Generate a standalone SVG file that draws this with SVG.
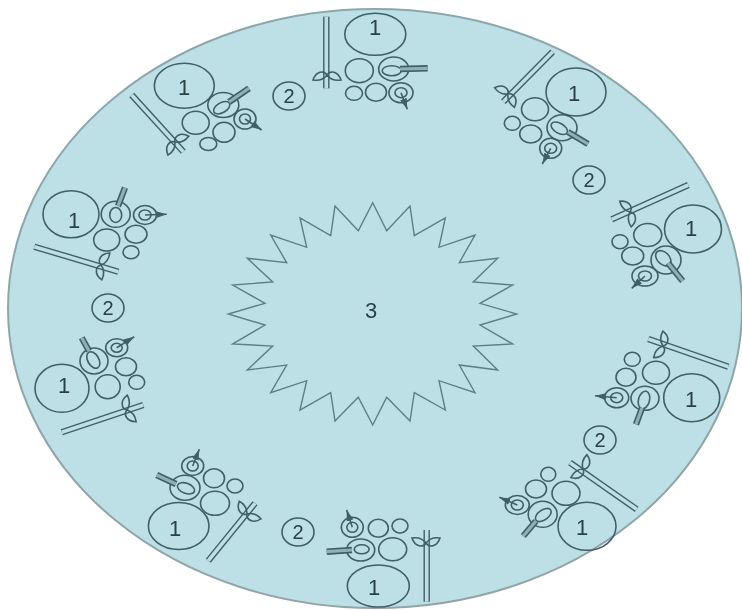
<svg xmlns="http://www.w3.org/2000/svg" width="742" height="610" viewBox="0 0 742 610">
<style>
.l{fill:none;stroke:#3f5f66;stroke-width:1.6}
.s{fill:none;stroke:#5b7f86;stroke-width:1.4}
.r1{fill:none;stroke:#3f5f66;stroke-width:6.4}
.r2{fill:none;stroke:#bce0e5;stroke-width:3.6}
.k2{fill:none;stroke:#8fb0b5;stroke-width:3.2}
.n{fill:none;stroke:#3f5f66;stroke-width:1.6;marker-end:url(#tip)}
.t{font-family:"Liberation Sans",Arial,sans-serif;font-size:22px;fill:#2b3f45;text-anchor:middle}
.u{font-size:20px}
</style>
<defs>
<filter id="b" x="-2%" y="-2%" width="104%" height="104%"><feGaussianBlur stdDeviation="0.5"/></filter>
<marker id="tip" markerUnits="userSpaceOnUse" viewBox="0 0 11 7" refX="11" refY="3.5" markerWidth="11" markerHeight="7" orient="auto"><path d="M0 0L11 3.5L0 7Z" fill="#3f5f66"/></marker>
<path id="leaf" d="M0 0C-3 -5 -11 -4 -14 5C-8 6 -3 4 0 0C3 -5 11 -4 14 5C8 6 3 4 0 0Z" fill="none" stroke="#3f5f66" stroke-width="1.6"/>
</defs>
<rect width="742" height="610" fill="#fff"/>
<g filter="url(#b)">
<ellipse id="disc" cx="375" cy="308.5" rx="367" ry="299.5" fill="#bce0e5" stroke="#8ea6aa" stroke-width="2"/>
<g id="star">
<polygon class="s" points="372.7,202.7 386.7,230.7 410,206 414.3,235.7 445.3,218 439,247.3 475,235 459.3,262.7 497.7,258.3 473.3,282 512.7,285 480,303.3 516.7,314 480,325 512.7,344 473.3,346 497.7,370 459.3,365 475,392.7 439,380.7 445.3,410 414.3,392.7 410,421 386.7,397.3 372.7,425 358.3,397.3 335,421 330.7,392.7 300,410 306.7,380.7 270.7,392.7 286.7,365 247.3,370 272.7,346 232.7,344 265,325 228.3,314 265,303.3 232.7,285 272.7,282 247.3,258.3 286.7,262.7 270.7,235 306.7,247.3 300,218 330.7,235.7 335,206 358.3,230.7"/>
<text class="t" x="371" y="318">3</text>
</g>

<g id="n1">
<ellipse class="l" cx="375.3" cy="34.3" rx="30.5" ry="21"/>
<ellipse class="l" cx="359.3" cy="70.7" rx="14" ry="12"/>
<ellipse class="l" cx="393.7" cy="69" rx="15" ry="12"/>
<ellipse class="l" cx="391.7" cy="70.7" rx="9.5" ry="5"/>
<path class="r1" d="M400 69L427.7 68.3"/><path class="k2" d="M400 69L427.7 68.3"/>
<ellipse class="l" cx="354" cy="93.3" rx="8.5" ry="7"/>
<ellipse class="l" cx="376" cy="92.3" rx="10.5" ry="9"/>
<ellipse class="l" cx="401" cy="92.7" rx="12" ry="10"/>
<ellipse class="l" cx="401" cy="92.7" rx="6" ry="5"/>
<path class="n" d="M401 92.7L407.3 109.3"/>
<path class="r1" d="M326.3 16.7V88.3"/><path class="r2" d="M326.3 16.7V88.3"/>
<use href="#leaf" transform="translate(327,75)"/>
<text class="t" x="375" y="35">1</text>
</g>

<g id="n2">
<ellipse class="l" cx="576" cy="92" rx="30" ry="24"/>
<ellipse class="l" cx="535" cy="109.3" rx="13.5" ry="11.5"/>
<ellipse class="l" cx="562" cy="127.7" rx="15" ry="13"/>
<ellipse class="l" cx="559.3" cy="128.3" rx="9" ry="5" transform="rotate(30 559.3 128.3)"/>
<path class="r1" d="M568 132L588 144"/><path class="k2" d="M568 132L588 144"/>
<ellipse class="l" cx="512.3" cy="123.3" rx="8" ry="7"/>
<ellipse class="l" cx="530.7" cy="134" rx="11" ry="9"/>
<ellipse class="l" cx="550.7" cy="148.3" rx="11" ry="10"/>
<ellipse class="l" cx="550.7" cy="148.3" rx="6" ry="5"/>
<path class="n" d="M550.7 148.3L542.3 164"/>
<path class="r1" d="M552.7 51.7L503.3 101.7"/><path class="r2" d="M552.7 51.7L503.3 101.7"/>
<use href="#leaf" transform="translate(508,94) rotate(45)"/>
<text class="t" x="574" y="101">1</text>
</g>

<g id="n3">
<ellipse class="l" cx="693" cy="229" rx="28.5" ry="24"/>
<ellipse class="l" cx="647.7" cy="235" rx="14" ry="11.5"/>
<ellipse class="l" cx="666" cy="260" rx="15" ry="14"/>
<ellipse class="l" cx="663.3" cy="258.3" rx="9" ry="6" transform="rotate(45 663.3 258.3)"/>
<path class="r1" d="M668 263L682.7 281"/><path class="k2" d="M668 263L682.7 281"/>
<ellipse class="l" cx="620" cy="241.7" rx="8" ry="7"/>
<ellipse class="l" cx="632.7" cy="256" rx="11" ry="9"/>
<ellipse class="l" cx="645" cy="276" rx="13" ry="10"/>
<ellipse class="l" cx="645" cy="276" rx="6.5" ry="5"/>
<path class="n" d="M645 276L631.7 288.3"/>
<path class="r1" d="M688.3 185L611.7 219.3"/><path class="r2" d="M688.3 185L611.7 219.3"/>
<use href="#leaf" transform="translate(630,212) rotate(66)"/>
<text class="t" x="691" y="236">1</text>
</g>

<g id="n4">
<ellipse class="l" cx="691.7" cy="397.7" rx="28" ry="24"/>
<ellipse class="l" cx="656" cy="372.7" rx="13.5" ry="11.5"/>
<ellipse class="l" cx="645" cy="398.3" rx="14" ry="12"/>
<ellipse class="l" cx="644" cy="400" rx="5.5" ry="9" transform="rotate(15 644 400)"/>
<path class="r1" d="M642 408L636 424.3"/><path class="k2" d="M642 408L636 424.3"/>
<ellipse class="l" cx="632.3" cy="359.3" rx="8" ry="7"/>
<ellipse class="l" cx="626" cy="377.3" rx="10" ry="9"/>
<ellipse class="l" cx="616.7" cy="397.7" rx="12" ry="10"/>
<ellipse class="l" cx="616.7" cy="397.7" rx="6" ry="5"/>
<path class="n" d="M616.7 397.7L595 395.7"/>
<path class="r1" d="M648.3 339L728.3 366.7"/><path class="r2" d="M648.3 339L728.3 366.7"/>
<use href="#leaf" transform="translate(663,346) rotate(109)"/>
<text class="t" x="691" y="407">1</text>
</g>

<g id="n5">
<ellipse class="l" cx="587" cy="526.3" rx="29" ry="24"/>
<ellipse class="l" cx="566" cy="493.3" rx="14" ry="12"/>
<ellipse class="l" cx="542.7" cy="514.3" rx="14.5" ry="13"/>
<ellipse class="l" cx="543.3" cy="515" rx="9" ry="5" transform="rotate(-35 543.3 515)"/>
<path class="r1" d="M536 521L523.3 536"/><path class="k2" d="M536 521L523.3 536"/>
<ellipse class="l" cx="548.3" cy="474.3" rx="7.5" ry="7"/>
<ellipse class="l" cx="536" cy="489" rx="10.5" ry="9"/>
<ellipse class="l" cx="517.3" cy="505" rx="12" ry="9.5"/>
<ellipse class="l" cx="517.3" cy="505" rx="6" ry="5"/>
<path class="n" d="M517.3 505L499.3 497.3"/>
<path class="r1" d="M570 462.7L636.7 509.3"/><path class="r2" d="M570 462.7L636.7 509.3"/>
<use href="#leaf" transform="translate(583,469) rotate(125)"/>
<text class="t" x="582" y="535">1</text>
</g>

<g id="n6">
<ellipse class="l" cx="378.3" cy="586" rx="31" ry="21"/>
<ellipse class="l" cx="392.7" cy="549.3" rx="14" ry="11.5"/>
<ellipse class="l" cx="360.7" cy="550" rx="14" ry="11"/>
<ellipse class="l" cx="361.7" cy="549.3" rx="7.5" ry="4.5"/>
<path class="r1" d="M352 550L326.7 551.7"/><path class="k2" d="M352 550L326.7 551.7"/>
<ellipse class="l" cx="400" cy="526" rx="8" ry="7"/>
<ellipse class="l" cx="378.3" cy="528.3" rx="10" ry="9"/>
<ellipse class="l" cx="352.3" cy="527.3" rx="11" ry="10"/>
<ellipse class="l" cx="352.3" cy="527.3" rx="5.5" ry="5"/>
<path class="n" d="M352.3 527.3L346.7 510"/>
<path class="r1" d="M426.7 530V601.7"/><path class="r2" d="M426.7 530V601.7"/>
<use href="#leaf" transform="translate(426,543) rotate(180)"/>
<text class="t" x="374" y="595">1</text>
</g>

<g id="n7">
<ellipse class="l" cx="178.7" cy="526" rx="30.3" ry="23.5"/>
<ellipse class="l" cx="215" cy="503.3" rx="14.5" ry="12"/>
<ellipse class="l" cx="185" cy="487.7" rx="15" ry="12.5"/>
<ellipse class="l" cx="186" cy="488.3" rx="9" ry="5" transform="rotate(20 186 488.3)"/>
<path class="r1" d="M176 484L156.7 475"/><path class="k2" d="M176 484L156.7 475"/>
<ellipse class="l" cx="235" cy="486" rx="8" ry="7"/>
<ellipse class="l" cx="214" cy="478.3" rx="10.5" ry="9.5"/>
<ellipse class="l" cx="192.7" cy="466" rx="11" ry="9.5"/>
<ellipse class="l" cx="192.7" cy="466" rx="5.5" ry="5"/>
<path class="n" d="M192.7 466L199.3 449.3"/>
<path class="r1" d="M208.3 560.7L255 503.3"/><path class="r2" d="M208.3 560.7L255 503.3"/>
<use href="#leaf" transform="translate(247,514) rotate(219)"/>
<text class="t" x="175" y="536">1</text>
</g>

<g id="n8">
<ellipse class="l" cx="62" cy="388.3" rx="27" ry="24"/>
<ellipse class="l" cx="107.7" cy="386.7" rx="12.5" ry="12"/>
<ellipse class="l" cx="94" cy="361" rx="14" ry="13"/>
<ellipse class="l" cx="93.3" cy="360" rx="5.5" ry="9" transform="rotate(-30 93.3 360)"/>
<path class="r1" d="M89 351L81.7 337.7"/><path class="k2" d="M89 351L81.7 337.7"/>
<ellipse class="l" cx="136.7" cy="382.3" rx="8" ry="7"/>
<ellipse class="l" cx="126" cy="366.7" rx="10.5" ry="9"/>
<ellipse class="l" cx="116.7" cy="347.7" rx="11" ry="9"/>
<ellipse class="l" cx="116.7" cy="347.7" rx="5.5" ry="4.5"/>
<path class="n" d="M116.7 347.7L134.3 336.7"/>
<path class="r1" d="M61.7 432.3L143.3 405"/><path class="r2" d="M61.7 432.3L143.3 405"/>
<use href="#leaf" transform="translate(127,410) rotate(251.5)"/>
<text class="t" x="64" y="393">1</text>
</g>

<g id="n9">
<ellipse class="l" cx="71" cy="214.3" rx="28" ry="23.5"/>
<ellipse class="l" cx="106.7" cy="240" rx="13" ry="11"/>
<ellipse class="l" cx="115.7" cy="214.3" rx="14.5" ry="13"/>
<ellipse class="l" cx="115.7" cy="215" rx="6" ry="7.5"/>
<path class="r1" d="M118 206L125 187.7"/><path class="k2" d="M118 206L125 187.7"/>
<ellipse class="l" cx="131" cy="252.3" rx="8" ry="6.5"/>
<ellipse class="l" cx="136" cy="234.3" rx="11" ry="9"/>
<ellipse class="l" cx="145" cy="215" rx="11.5" ry="9.5"/>
<ellipse class="l" cx="145" cy="215" rx="6" ry="5"/>
<path class="n" d="M145 215L166.7 214.3"/>
<path class="r1" d="M34.3 246.7L118.3 271.7"/><path class="r2" d="M34.3 246.7L118.3 271.7"/>
<use href="#leaf" transform="translate(101,265) rotate(286.6)"/>
<text class="t" x="74" y="228">1</text>
</g>

<g id="n10">
<ellipse class="l" cx="184.3" cy="85.7" rx="30" ry="22.5"/>
<ellipse class="l" cx="195.7" cy="122.7" rx="13.5" ry="11.5"/>
<ellipse class="l" cx="223.3" cy="105" rx="15.5" ry="12.5"/>
<ellipse class="l" cx="221.7" cy="107.7" rx="9" ry="5" transform="rotate(-30 221.7 107.7)"/>
<path class="r1" d="M229 102L249 88.3"/><path class="k2" d="M229 102L249 88.3"/>
<ellipse class="l" cx="208.3" cy="144" rx="8.5" ry="6.5"/>
<ellipse class="l" cx="224" cy="132.3" rx="11" ry="10"/>
<ellipse class="l" cx="245" cy="119" rx="11" ry="10"/>
<ellipse class="l" cx="245" cy="119" rx="5.5" ry="5"/>
<path class="n" d="M245 119L261.7 130"/>
<path class="r1" d="M131.7 95L183.3 151.7"/><path class="r2" d="M131.7 95L183.3 151.7"/>
<use href="#leaf" transform="translate(175,142) rotate(-42.3)"/>
<text class="t" x="184" y="95">1</text>
</g>

<g id="p1"><ellipse class="l" cx="289" cy="96" rx="16" ry="14"/><text class="t u" x="289" y="103">2</text></g>
<g id="p2"><ellipse class="l" cx="589" cy="180" rx="16" ry="14"/><text class="t u" x="589" y="187">2</text></g>
<g id="p3"><ellipse class="l" cx="600" cy="440" rx="16" ry="14"/><text class="t u" x="600" y="447">2</text></g>
<g id="p4"><ellipse class="l" cx="298" cy="532" rx="16" ry="14"/><text class="t u" x="298" y="539">2</text></g>
<g id="p5"><ellipse class="l" cx="108" cy="308" rx="16" ry="14"/><text class="t u" x="108" y="315">2</text></g>
</g>
<g id="connectors"/>
</svg>
